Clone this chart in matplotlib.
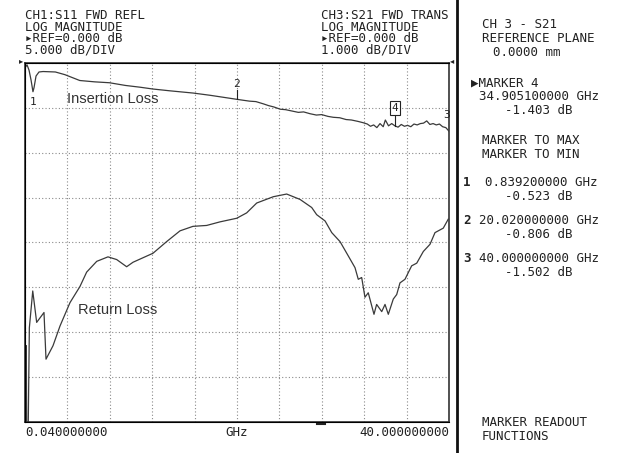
import numpy as np
import matplotlib
matplotlib.use('Agg')
import matplotlib.pyplot as plt
from matplotlib.lines import Line2D

# CH3 S21 insertion loss (GHz, dB)
il_freq = [0.04, 0.23, 0.42, 0.61, 0.79, 0.89, 1.08, 1.36, 1.74, 2.9, 3.8, 5.2, 6.6, 8.0,
           9.5, 10.9, 12.1, 13.7, 15.9, 17.5, 18.9, 20.02, 20.6, 21.2, 21.8, 22.5, 23.0, 23.5,
           24.1, 24.6, 25.2, 25.8, 26.3, 26.9, 27.5, 28.0, 28.6, 29.1, 29.7, 30.3, 30.8, 31.4,
           31.9, 32.3, 32.6, 32.9, 33.2, 33.5, 33.8, 34.0, 34.3, 34.6, 34.9, 35.2, 35.5, 35.8,
           36.1, 36.4, 36.7, 37.0, 37.3, 37.6, 37.9, 38.2, 38.5, 38.8, 39.1, 39.4, 39.7, 40.0]
il_db = [-0.11, -0.04, -0.16, -0.38, -0.64, -0.55, -0.29, -0.20, -0.19, -0.20, -0.26, -0.39,
         -0.42, -0.44, -0.50, -0.54, -0.58, -0.62, -0.67, -0.72, -0.77, -0.81, -0.83, -0.85,
         -0.86, -0.91, -0.95, -0.98, -1.03, -1.04, -1.07, -1.10, -1.09, -1.13, -1.16, -1.15,
         -1.19, -1.21, -1.22, -1.26, -1.27, -1.30, -1.33, -1.36, -1.41, -1.38, -1.44, -1.35,
         -1.42, -1.27, -1.40, -1.35, -1.40, -1.43, -1.37, -1.41, -1.39, -1.42, -1.36, -1.38,
         -1.35, -1.34, -1.29, -1.37, -1.35, -1.38, -1.36, -1.42, -1.44, -1.52]

# CH1 S11 return loss (GHz, dB)
rl_freq = [0.04, 0.10, 0.16, 0.22, 0.30, 0.45, 0.77, 1.14, 1.83, 2.02, 2.68, 3.34, 4.28, 5.22,
           5.85, 6.80, 7.86, 8.68, 9.62, 10.22, 12.10, 13.39, 14.65, 15.87, 17.16, 18.42, 19.99,
           20.93, 21.88, 23.44, 24.70, 25.96, 27.06, 27.53, 28.32, 28.95, 29.73, 30.51, 31.14,
           31.45, 31.77, 32.08, 32.39, 32.93, 33.18, 33.66, 33.97, 34.28, 34.75, 35.07, 35.38,
           35.85, 36.48, 36.96, 37.58, 38.21, 38.68, 39.46, 39.93]
rl_db = [-33.0, -45, -31.5, -45, -45, -29.5, -25.4, -28.9, -27.8, -33.0, -31.5, -29.3, -26.7,
         -24.9, -23.3, -22.1, -21.6, -21.9, -22.7, -22.2, -21.2, -19.9, -18.7, -18.2, -18.1,
         -17.7, -17.3, -16.7, -15.6, -14.9, -14.6, -15.2, -16.1, -16.9, -17.6, -18.9, -19.9,
         -21.5, -22.8, -24.1, -23.9, -26.1, -25.6, -28.0, -26.9, -27.7, -26.9, -28.0, -26.3,
         -25.8, -24.5, -24.1, -22.6, -22.3, -21.0, -20.2, -18.9, -18.4, -17.4]

# markers (number, GHz, dB)
marker_num = [1, 2, 3, 4]
marker_freq = [0.8392, 20.02, 40.0, 34.9051]
marker_db = [-0.523, -0.806, -1.502, -1.403]

W, H = 617, 453
fig = plt.figure(figsize=(W / 100, H / 100), dpi=100)
mono = 'DejaVu Sans Mono'
ink = '#222222'

def px(x, y):
    return x / W, 1 - y / H

ax = fig.add_axes([25 / W, 1 - 422 / H, (449 - 25) / W, (422 - 63) / H])
ax.set_xlim(0.04, 40)
ax.set_ylim(-40, 0)
ax.set_xticks(np.linspace(0.04, 40, 11))
ax.set_yticks(np.arange(-40, 1, 5))
ax.grid(True, linestyle=(0, (1, 2)), color='#8a8a8a', linewidth=0.8)
ax.tick_params(length=0, labelbottom=False, labelleft=False)
for s in ax.spines.values():
    s.set_color('#333333')
    s.set_linewidth(1.2)
ax.plot(rl_freq, rl_db, color='#3a3a3a', linewidth=0.9)

ax2 = ax.twinx()
ax2.set_ylim(-8, 0)
ax2.tick_params(length=0, labelright=False)
ax2.spines['right'].set_visible(False)
ax2.plot(il_freq, il_db, color='#3a3a3a', linewidth=0.9)

# marker annotations
ax2.text(marker_freq[0], marker_db[0] - 0.35, '1', fontsize=8, family=mono, color=ink,
         ha='center', va='center')
ax2.plot([marker_freq[1]] * 2, [marker_db[1] + 0.2, marker_db[1]], color=ink, lw=0.8)
ax2.text(marker_freq[1], marker_db[1] + 0.33, '2', fontsize=8, family=mono, color=ink,
         ha='center', va='center')
ax2.text(marker_freq[2] - 0.2, marker_db[2] + 0.35, '3', fontsize=8, family=mono, color=ink,
         ha='center', va='center', clip_on=False)
ax2.plot([marker_freq[3]] * 2, [marker_db[3] + 0.28, marker_db[3]], color=ink, lw=0.8)
ax2.text(marker_freq[3], marker_db[3] + 0.4, '4', fontsize=8, family=mono, color=ink,
         ha='center', va='center',
         bbox=dict(boxstyle='square,pad=0.15', fc='white', ec=ink, lw=0.8))

ax.text(*px(67, 99), 'Insertion Loss', transform=fig.transFigure, fontsize=10.5,
        family='Liberation Sans', color='#333333', va='center')
ax.text(*px(78, 310), 'Return Loss', transform=fig.transFigure, fontsize=10.5,
        family='Liberation Sans', color='#333333', va='center')

# header text, one block per channel
left_hdr = ['CH1:S11 FWD REFL', 'LOG MAGNITUDE', '\u25b8REF=0.000 dB', '5.000 dB/DIV']
right_hdr = ['CH3:S21 FWD TRANS', 'LOG MAGNITUDE', '\u25b8REF=0.000 dB', '1.000 dB/DIV']
fig.text(*px(25, 9), '\n'.join(left_hdr), family=mono, fontsize=9, color=ink, va='top',
         linespacing=0.86)
fig.text(*px(321, 9), '\n'.join(right_hdr), family=mono, fontsize=9, color=ink, va='top',
         linespacing=0.86)

fig.text(*px(19, 61), '\u25b8', family='DejaVu Sans', fontsize=6, color=ink, va='center')
fig.text(*px(450, 61), '\u25c2', family='DejaVu Sans', fontsize=6, color=ink, va='center')

# bottom labels
fig.text(*px(25, 433), '0.040000000', family=mono, fontsize=9, color=ink, va='center')
fig.text(*px(237, 433), 'GHz', family=mono, fontsize=9, color=ink, va='center', ha='center')
fig.text(*px(449, 433), '40.000000000', family=mono, fontsize=9, color=ink, va='center',
         ha='right')
fig.add_artist(Line2D([317 / W, 325 / W], [1 - 424 / H] * 2, color=ink, lw=1.5))

# divider
fig.add_artist(Line2D([457 / W, 457 / W], [0, 1], color='#111111', lw=2))

# right panel
panel = [
    (482, 25, 'CH 3 - S21'),
    (482, 39, 'REFERENCE PLANE'),
    (493, 53, '0.0000 mm'),
    (471, 83, '\u25b6MARKER 4'),
    (479, 97, '34.905100000 GHz'),
    (505, 111, '-1.403 dB'),
    (482, 141, 'MARKER TO MAX'),
    (482, 155, 'MARKER TO MIN'),
    (485, 182, '0.839200000 GHz'),
    (505, 196, '-0.523 dB'),
    (479, 220, '20.020000000 GHz'),
    (505, 234, '-0.806 dB'),
    (479, 258, '40.000000000 GHz'),
    (505, 272, '-1.502 dB'),
    (482, 422, 'MARKER READOUT'),
    (482, 437, 'FUNCTIONS'),
]
for x, y, s in panel:
    fig.text(*px(x, y), s, family=mono, fontsize=9, color=ink, va='center')
for n, y in zip(['1', '2', '3'], [182, 220, 258]):
    fig.text(*px(463, y), n, family=mono, fontsize=9, color=ink, va='center',
             weight='bold')

fig.savefig('out.png', dpi=100)
